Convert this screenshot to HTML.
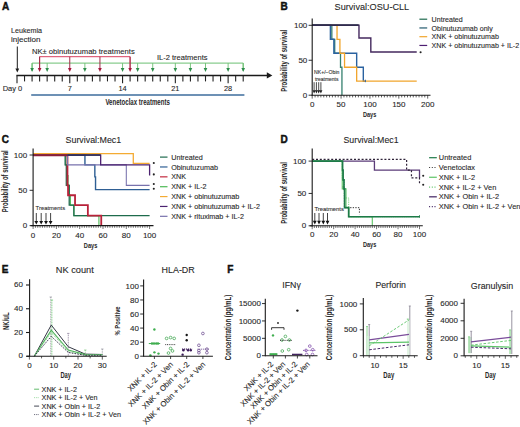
<!DOCTYPE html>
<html><head><meta charset="utf-8"><title>Figure</title>
<style>
html,body{margin:0;padding:0;background:#fff;width:520px;height:427px;overflow:hidden}
svg{display:block;font-family:"Liberation Sans",sans-serif}
text{stroke:#2a2a2a;stroke-width:0.1px;paint-order:stroke}
text[font-weight=bold]{stroke-width:0}
text.pl{stroke:#111;stroke-width:0.45px}
</style></head><body>
<svg width="520" height="427" viewBox="0 0 520 427">
<rect width="520" height="427" fill="#fff"/>
<text x="2" y="10" font-size="10" fill="#111" class="pl" font-weight="bold">A</text>
<text x="11" y="32.8" font-size="7.2" fill="#262626" textLength="31" lengthAdjust="spacingAndGlyphs">Leukemia</text>
<text x="11" y="41.8" font-size="7.2" fill="#262626" textLength="29.5" lengthAdjust="spacingAndGlyphs">injection</text>
<line x1="17.3" y1="46.5" x2="17.3" y2="68.9" stroke="#1a1a1a" stroke-width="1" stroke-linecap="butt"/>
<polygon points="15.4,68.6 19.2,68.6 17.3,72.4" fill="#1a1a1a"/>
<text x="31.9" y="53.6" font-size="7.4" fill="#262626" textLength="102.8" lengthAdjust="spacingAndGlyphs">NK± obinutuzumab treatments</text>
<text x="156.9" y="60.1" font-size="7.4" fill="#262626" textLength="50.6" lengthAdjust="spacingAndGlyphs">IL-2 treatments</text>
<polyline points="32.08,71 32.08,63.1 243.2,63.1 243.2,71" fill="none" stroke="#6cc072" stroke-width="1" stroke-linejoin="miter"/>
<line x1="32.08" y1="63.1" x2="32.08" y2="68.4" stroke="#6cc072" stroke-width="0.9" stroke-linecap="butt"/>
<polygon points="30.28,68.1 33.88,68.1 32.08,72.1" fill="#2e8d4c"/>
<line x1="47.16" y1="63.1" x2="47.16" y2="68.4" stroke="#6cc072" stroke-width="0.9" stroke-linecap="butt"/>
<polygon points="45.36,68.1 48.96,68.1 47.16,72.1" fill="#2e8d4c"/>
<line x1="84.86" y1="63.1" x2="84.86" y2="68.4" stroke="#6cc072" stroke-width="0.9" stroke-linecap="butt"/>
<polygon points="83.06,68.1 86.66,68.1 84.86,72.1" fill="#2e8d4c"/>
<line x1="122.56" y1="63.1" x2="122.56" y2="68.4" stroke="#6cc072" stroke-width="0.9" stroke-linecap="butt"/>
<polygon points="120.76,68.1 124.36,68.1 122.56,72.1" fill="#2e8d4c"/>
<line x1="137.64" y1="63.1" x2="137.64" y2="68.4" stroke="#6cc072" stroke-width="0.9" stroke-linecap="butt"/>
<polygon points="135.84,68.1 139.44,68.1 137.64,72.1" fill="#2e8d4c"/>
<line x1="152.72" y1="63.1" x2="152.72" y2="68.4" stroke="#6cc072" stroke-width="0.9" stroke-linecap="butt"/>
<polygon points="150.92,68.1 154.52,68.1 152.72,72.1" fill="#2e8d4c"/>
<line x1="175.34" y1="63.1" x2="175.34" y2="68.4" stroke="#6cc072" stroke-width="0.9" stroke-linecap="butt"/>
<polygon points="173.54,68.1 177.14,68.1 175.34,72.1" fill="#2e8d4c"/>
<line x1="190.42" y1="63.1" x2="190.42" y2="68.4" stroke="#6cc072" stroke-width="0.9" stroke-linecap="butt"/>
<polygon points="188.62,68.1 192.22,68.1 190.42,72.1" fill="#2e8d4c"/>
<line x1="205.5" y1="63.1" x2="205.5" y2="68.4" stroke="#6cc072" stroke-width="0.9" stroke-linecap="butt"/>
<polygon points="203.7,68.1 207.3,68.1 205.5,72.1" fill="#2e8d4c"/>
<line x1="228.12" y1="63.1" x2="228.12" y2="68.4" stroke="#6cc072" stroke-width="0.9" stroke-linecap="butt"/>
<polygon points="226.32,68.1 229.92,68.1 228.12,72.1" fill="#2e8d4c"/>
<line x1="243.2" y1="63.1" x2="243.2" y2="68.4" stroke="#6cc072" stroke-width="0.9" stroke-linecap="butt"/>
<polygon points="241.4,68.1 245,68.1 243.2,72.1" fill="#2e8d4c"/>
<polyline points="39.62,70 39.62,56.7 130.1,56.7 130.1,70" fill="none" stroke="#d9415f" stroke-width="1" stroke-linejoin="miter"/>
<line x1="39.62" y1="56.7" x2="39.62" y2="68.4" stroke="#9e2c48" stroke-width="1" stroke-linecap="butt"/>
<polygon points="37.82,68.1 41.42,68.1 39.62,72.1" fill="#a3173a"/>
<line x1="69.78" y1="56.7" x2="69.78" y2="68.4" stroke="#9e2c48" stroke-width="1" stroke-linecap="butt"/>
<polygon points="67.98,68.1 71.58,68.1 69.78,72.1" fill="#a3173a"/>
<line x1="99.94" y1="56.7" x2="99.94" y2="68.4" stroke="#9e2c48" stroke-width="1" stroke-linecap="butt"/>
<polygon points="98.14,68.1 101.74,68.1 99.94,72.1" fill="#a3173a"/>
<line x1="130.1" y1="56.7" x2="130.1" y2="68.4" stroke="#9e2c48" stroke-width="1" stroke-linecap="butt"/>
<polygon points="128.3,68.1 131.9,68.1 130.1,72.1" fill="#a3173a"/>
<line x1="16.4" y1="75.5" x2="267.5" y2="75.5" stroke="#1a1a1a" stroke-width="1.3" stroke-linecap="butt"/>
<polygon points="266.8,72.2 272.4,75.5 266.8,78.6" fill="#1a1a1a"/>
<line x1="17" y1="75.5" x2="17" y2="83.2" stroke="#222" stroke-width="1.1" stroke-linecap="butt"/>
<line x1="24.54" y1="75.5" x2="24.54" y2="81.4" stroke="#222" stroke-width="1.1" stroke-linecap="butt"/>
<line x1="32.08" y1="75.5" x2="32.08" y2="81.4" stroke="#222" stroke-width="1.1" stroke-linecap="butt"/>
<line x1="39.62" y1="75.5" x2="39.62" y2="81.4" stroke="#222" stroke-width="1.1" stroke-linecap="butt"/>
<line x1="47.16" y1="75.5" x2="47.16" y2="81.4" stroke="#222" stroke-width="1.1" stroke-linecap="butt"/>
<line x1="54.7" y1="75.5" x2="54.7" y2="81.4" stroke="#222" stroke-width="1.1" stroke-linecap="butt"/>
<line x1="62.24" y1="75.5" x2="62.24" y2="81.4" stroke="#222" stroke-width="1.1" stroke-linecap="butt"/>
<line x1="69.78" y1="75.5" x2="69.78" y2="83.2" stroke="#222" stroke-width="1.1" stroke-linecap="butt"/>
<line x1="77.32" y1="75.5" x2="77.32" y2="81.4" stroke="#222" stroke-width="1.1" stroke-linecap="butt"/>
<line x1="84.86" y1="75.5" x2="84.86" y2="81.4" stroke="#222" stroke-width="1.1" stroke-linecap="butt"/>
<line x1="92.4" y1="75.5" x2="92.4" y2="81.4" stroke="#222" stroke-width="1.1" stroke-linecap="butt"/>
<line x1="99.94" y1="75.5" x2="99.94" y2="81.4" stroke="#222" stroke-width="1.1" stroke-linecap="butt"/>
<line x1="107.48" y1="75.5" x2="107.48" y2="81.4" stroke="#222" stroke-width="1.1" stroke-linecap="butt"/>
<line x1="115.02" y1="75.5" x2="115.02" y2="81.4" stroke="#222" stroke-width="1.1" stroke-linecap="butt"/>
<line x1="122.56" y1="75.5" x2="122.56" y2="83.2" stroke="#222" stroke-width="1.1" stroke-linecap="butt"/>
<line x1="130.1" y1="75.5" x2="130.1" y2="81.4" stroke="#222" stroke-width="1.1" stroke-linecap="butt"/>
<line x1="137.64" y1="75.5" x2="137.64" y2="81.4" stroke="#222" stroke-width="1.1" stroke-linecap="butt"/>
<line x1="145.18" y1="75.5" x2="145.18" y2="81.4" stroke="#222" stroke-width="1.1" stroke-linecap="butt"/>
<line x1="152.72" y1="75.5" x2="152.72" y2="81.4" stroke="#222" stroke-width="1.1" stroke-linecap="butt"/>
<line x1="160.26" y1="75.5" x2="160.26" y2="81.4" stroke="#222" stroke-width="1.1" stroke-linecap="butt"/>
<line x1="167.8" y1="75.5" x2="167.8" y2="81.4" stroke="#222" stroke-width="1.1" stroke-linecap="butt"/>
<line x1="175.34" y1="75.5" x2="175.34" y2="83.2" stroke="#222" stroke-width="1.1" stroke-linecap="butt"/>
<line x1="182.88" y1="75.5" x2="182.88" y2="81.4" stroke="#222" stroke-width="1.1" stroke-linecap="butt"/>
<line x1="190.42" y1="75.5" x2="190.42" y2="81.4" stroke="#222" stroke-width="1.1" stroke-linecap="butt"/>
<line x1="197.96" y1="75.5" x2="197.96" y2="81.4" stroke="#222" stroke-width="1.1" stroke-linecap="butt"/>
<line x1="205.5" y1="75.5" x2="205.5" y2="81.4" stroke="#222" stroke-width="1.1" stroke-linecap="butt"/>
<line x1="213.04" y1="75.5" x2="213.04" y2="81.4" stroke="#222" stroke-width="1.1" stroke-linecap="butt"/>
<line x1="220.58" y1="75.5" x2="220.58" y2="81.4" stroke="#222" stroke-width="1.1" stroke-linecap="butt"/>
<line x1="228.12" y1="75.5" x2="228.12" y2="83.2" stroke="#222" stroke-width="1.1" stroke-linecap="butt"/>
<line x1="235.66" y1="75.5" x2="235.66" y2="81.4" stroke="#222" stroke-width="1.1" stroke-linecap="butt"/>
<line x1="243.2" y1="75.5" x2="243.2" y2="81.4" stroke="#222" stroke-width="1.1" stroke-linecap="butt"/>
<text x="2.7" y="91.3" font-size="7.4" fill="#262626" textLength="19.6" lengthAdjust="spacingAndGlyphs">Day 0</text>
<text x="69.78" y="91.3" font-size="7.4" fill="#262626" text-anchor="middle">7</text>
<text x="122.56" y="91.3" font-size="7.4" fill="#262626" text-anchor="middle">14</text>
<text x="175.34" y="91.3" font-size="7.4" fill="#262626" text-anchor="middle">21</text>
<text x="228.12" y="91.3" font-size="7.4" fill="#262626" text-anchor="middle">28</text>
<line x1="31.2" y1="95" x2="244.4" y2="95" stroke="#3d6d9c" stroke-width="1.4" stroke-linecap="butt"/>
<text x="105.4" y="104.8" font-size="8.6" fill="#262626" font-weight="bold" textLength="64.4" lengthAdjust="spacingAndGlyphs">Venetoclax treatments</text>
<text x="280.5" y="10.2" font-size="10" fill="#111" class="pl" font-weight="bold">B</text>
<text x="334.6" y="10" font-size="9" fill="#262626" textLength="74.6" lengthAdjust="spacingAndGlyphs">Survival:OSU-CLL</text>
<polyline points="312.2,25.3 331.83,25.3 331.83,25.3 331.83,39.28 334.72,39.28 334.72,39.28 334.72,53.26 340.5,53.26 340.5,53.26 340.5,67.24 341.94,67.24 341.94,67.24 341.94,95.2" fill="none" stroke="#35806f" stroke-width="1.3" stroke-linejoin="miter"/>
<polyline points="312.2,25.3 330.39,25.3 330.39,25.3 330.39,39.28 333.86,39.28 333.86,39.28 333.86,53.26 356.67,53.26 356.67,53.26 356.67,67.24 363.31,67.24 363.31,67.24 363.31,81.22 365.91,81.22" fill="none" stroke="#2a62a0" stroke-width="1.4" stroke-linejoin="miter"/>
<polyline points="312.2,25.3 337.03,25.3 337.03,25.3 337.03,39.28 339.92,39.28 339.92,39.28 339.92,53.26 344.54,53.26 344.54,53.26 344.54,67.24 356.67,67.24 356.67,67.24 356.67,81.22 416.73,81.22" fill="none" stroke="#f1a52c" stroke-width="1.3" stroke-linejoin="miter"/>
<polyline points="312.2,25.3 358.98,25.3 358.98,25.3 358.98,38.02 370.82,38.02 370.82,38.02 370.82,52 416.73,52" fill="none" stroke="#44295e" stroke-width="1.4" stroke-linejoin="miter"/>
<line x1="312.2" y1="25.1" x2="358.69" y2="25.1" stroke="#2b2d4a" stroke-width="1.5" stroke-linecap="butt"/>
<line x1="365.41" y1="79.72" x2="365.41" y2="82.22" stroke="#2a62a0" stroke-width="0.9" stroke-linecap="butt"/>
<circle cx="420.6" cy="52.3" r="1.05" fill="#222"/>
<line x1="312.2" y1="18.6" x2="312.2" y2="95.8" stroke="#1a1a1a" stroke-width="1.1" stroke-linecap="butt"/>
<line x1="311.6" y1="95.2" x2="430.5" y2="95.2" stroke="#1a1a1a" stroke-width="1.1" stroke-linecap="butt"/>
<line x1="308.6" y1="25.3" x2="312.2" y2="25.3" stroke="#1a1a1a" stroke-width="0.9" stroke-linecap="butt"/>
<text x="307.3" y="27.9" font-size="8" fill="#262626" text-anchor="end">100</text>
<line x1="308.6" y1="60.25" x2="312.2" y2="60.25" stroke="#1a1a1a" stroke-width="0.9" stroke-linecap="butt"/>
<text x="307.3" y="62.85" font-size="8" fill="#262626" text-anchor="end">50</text>
<line x1="308.6" y1="95.2" x2="312.2" y2="95.2" stroke="#1a1a1a" stroke-width="0.9" stroke-linecap="butt"/>
<text x="307.3" y="97.8" font-size="8" fill="#262626" text-anchor="end">0</text>
<line x1="312.2" y1="95.2" x2="312.2" y2="98.6" stroke="#1a1a1a" stroke-width="0.7" stroke-linecap="butt"/>
<line x1="315.09" y1="95.2" x2="315.09" y2="97.4" stroke="#1a1a1a" stroke-width="0.7" stroke-linecap="butt"/>
<line x1="317.97" y1="95.2" x2="317.97" y2="97.4" stroke="#1a1a1a" stroke-width="0.7" stroke-linecap="butt"/>
<line x1="320.86" y1="95.2" x2="320.86" y2="97.4" stroke="#1a1a1a" stroke-width="0.7" stroke-linecap="butt"/>
<line x1="323.75" y1="95.2" x2="323.75" y2="97.4" stroke="#1a1a1a" stroke-width="0.7" stroke-linecap="butt"/>
<line x1="326.64" y1="95.2" x2="326.64" y2="97.4" stroke="#1a1a1a" stroke-width="0.7" stroke-linecap="butt"/>
<line x1="329.52" y1="95.2" x2="329.52" y2="97.4" stroke="#1a1a1a" stroke-width="0.7" stroke-linecap="butt"/>
<line x1="332.41" y1="95.2" x2="332.41" y2="97.4" stroke="#1a1a1a" stroke-width="0.7" stroke-linecap="butt"/>
<line x1="335.3" y1="95.2" x2="335.3" y2="97.4" stroke="#1a1a1a" stroke-width="0.7" stroke-linecap="butt"/>
<line x1="338.19" y1="95.2" x2="338.19" y2="97.4" stroke="#1a1a1a" stroke-width="0.7" stroke-linecap="butt"/>
<line x1="341.07" y1="95.2" x2="341.07" y2="98.6" stroke="#1a1a1a" stroke-width="0.7" stroke-linecap="butt"/>
<line x1="343.96" y1="95.2" x2="343.96" y2="97.4" stroke="#1a1a1a" stroke-width="0.7" stroke-linecap="butt"/>
<line x1="346.85" y1="95.2" x2="346.85" y2="97.4" stroke="#1a1a1a" stroke-width="0.7" stroke-linecap="butt"/>
<line x1="349.74" y1="95.2" x2="349.74" y2="97.4" stroke="#1a1a1a" stroke-width="0.7" stroke-linecap="butt"/>
<line x1="352.62" y1="95.2" x2="352.62" y2="97.4" stroke="#1a1a1a" stroke-width="0.7" stroke-linecap="butt"/>
<line x1="355.51" y1="95.2" x2="355.51" y2="97.4" stroke="#1a1a1a" stroke-width="0.7" stroke-linecap="butt"/>
<line x1="358.4" y1="95.2" x2="358.4" y2="97.4" stroke="#1a1a1a" stroke-width="0.7" stroke-linecap="butt"/>
<line x1="361.29" y1="95.2" x2="361.29" y2="97.4" stroke="#1a1a1a" stroke-width="0.7" stroke-linecap="butt"/>
<line x1="364.18" y1="95.2" x2="364.18" y2="97.4" stroke="#1a1a1a" stroke-width="0.7" stroke-linecap="butt"/>
<line x1="367.06" y1="95.2" x2="367.06" y2="97.4" stroke="#1a1a1a" stroke-width="0.7" stroke-linecap="butt"/>
<line x1="369.95" y1="95.2" x2="369.95" y2="98.6" stroke="#1a1a1a" stroke-width="0.7" stroke-linecap="butt"/>
<line x1="372.84" y1="95.2" x2="372.84" y2="97.4" stroke="#1a1a1a" stroke-width="0.7" stroke-linecap="butt"/>
<line x1="375.72" y1="95.2" x2="375.72" y2="97.4" stroke="#1a1a1a" stroke-width="0.7" stroke-linecap="butt"/>
<line x1="378.61" y1="95.2" x2="378.61" y2="97.4" stroke="#1a1a1a" stroke-width="0.7" stroke-linecap="butt"/>
<line x1="381.5" y1="95.2" x2="381.5" y2="97.4" stroke="#1a1a1a" stroke-width="0.7" stroke-linecap="butt"/>
<line x1="384.39" y1="95.2" x2="384.39" y2="97.4" stroke="#1a1a1a" stroke-width="0.7" stroke-linecap="butt"/>
<line x1="387.27" y1="95.2" x2="387.27" y2="97.4" stroke="#1a1a1a" stroke-width="0.7" stroke-linecap="butt"/>
<line x1="390.16" y1="95.2" x2="390.16" y2="97.4" stroke="#1a1a1a" stroke-width="0.7" stroke-linecap="butt"/>
<line x1="393.05" y1="95.2" x2="393.05" y2="97.4" stroke="#1a1a1a" stroke-width="0.7" stroke-linecap="butt"/>
<line x1="395.94" y1="95.2" x2="395.94" y2="97.4" stroke="#1a1a1a" stroke-width="0.7" stroke-linecap="butt"/>
<line x1="398.82" y1="95.2" x2="398.82" y2="98.6" stroke="#1a1a1a" stroke-width="0.7" stroke-linecap="butt"/>
<line x1="401.71" y1="95.2" x2="401.71" y2="97.4" stroke="#1a1a1a" stroke-width="0.7" stroke-linecap="butt"/>
<line x1="404.6" y1="95.2" x2="404.6" y2="97.4" stroke="#1a1a1a" stroke-width="0.7" stroke-linecap="butt"/>
<line x1="407.49" y1="95.2" x2="407.49" y2="97.4" stroke="#1a1a1a" stroke-width="0.7" stroke-linecap="butt"/>
<line x1="410.38" y1="95.2" x2="410.38" y2="97.4" stroke="#1a1a1a" stroke-width="0.7" stroke-linecap="butt"/>
<line x1="413.26" y1="95.2" x2="413.26" y2="97.4" stroke="#1a1a1a" stroke-width="0.7" stroke-linecap="butt"/>
<line x1="416.15" y1="95.2" x2="416.15" y2="97.4" stroke="#1a1a1a" stroke-width="0.7" stroke-linecap="butt"/>
<line x1="419.04" y1="95.2" x2="419.04" y2="97.4" stroke="#1a1a1a" stroke-width="0.7" stroke-linecap="butt"/>
<line x1="421.93" y1="95.2" x2="421.93" y2="97.4" stroke="#1a1a1a" stroke-width="0.7" stroke-linecap="butt"/>
<line x1="424.81" y1="95.2" x2="424.81" y2="97.4" stroke="#1a1a1a" stroke-width="0.7" stroke-linecap="butt"/>
<line x1="427.7" y1="95.2" x2="427.7" y2="98.6" stroke="#1a1a1a" stroke-width="0.7" stroke-linecap="butt"/>
<text x="312.2" y="106.6" font-size="8" fill="#262626" text-anchor="middle">0</text>
<text x="341.07" y="106.6" font-size="8" fill="#262626" text-anchor="middle">50</text>
<text x="369.95" y="106.6" font-size="8" fill="#262626" text-anchor="middle">100</text>
<text x="398.82" y="106.6" font-size="8" fill="#262626" text-anchor="middle">150</text>
<text x="427.7" y="106.6" font-size="8" fill="#262626" text-anchor="middle">200</text>
<text x="363" y="116.9" font-size="8" fill="#262626" font-weight="bold" textLength="13.3" lengthAdjust="spacingAndGlyphs">Days</text>
<text x="287.2" y="91.7" font-size="8.6" fill="#262626" font-weight="bold" textLength="61.8" lengthAdjust="spacingAndGlyphs" transform="rotate(-90 287.2 91.7)">Probability of survival</text>
<text x="314.1" y="74" font-size="4.6" fill="#333" textLength="25.3" lengthAdjust="spacingAndGlyphs">NK+/−Obin</text>
<text x="314.9" y="80.6" font-size="4.6" fill="#333" textLength="23.6" lengthAdjust="spacingAndGlyphs">treatments</text>
<line x1="314.1" y1="82.2" x2="314.1" y2="90.5" stroke="#1a1a1a" stroke-width="0.8" stroke-linecap="butt"/>
<polygon points="312.6,90.2 315.6,90.2 314.1,93.6" fill="#1a1a1a"/>
<line x1="316.4" y1="82.2" x2="316.4" y2="90.5" stroke="#1a1a1a" stroke-width="0.8" stroke-linecap="butt"/>
<polygon points="314.9,90.2 317.9,90.2 316.4,93.6" fill="#1a1a1a"/>
<line x1="318.7" y1="82.2" x2="318.7" y2="90.5" stroke="#1a1a1a" stroke-width="0.8" stroke-linecap="butt"/>
<polygon points="317.2,90.2 320.2,90.2 318.7,93.6" fill="#1a1a1a"/>
<line x1="320.9" y1="82.2" x2="320.9" y2="90.5" stroke="#1a1a1a" stroke-width="0.8" stroke-linecap="butt"/>
<polygon points="319.4,90.2 322.4,90.2 320.9,93.6" fill="#1a1a1a"/>
<line x1="419.4" y1="19.2" x2="427.2" y2="19.2" stroke="#1f6a4e" stroke-width="1.2" stroke-linecap="butt"/>
<text x="431.6" y="21.8" font-size="7.1" fill="#262626">Untreated</text>
<line x1="419.4" y1="27.95" x2="427.2" y2="27.95" stroke="#245a6e" stroke-width="1.2" stroke-linecap="butt"/>
<text x="431.6" y="30.55" font-size="7.1" fill="#262626">Obinutuzumab only</text>
<line x1="419.4" y1="36.7" x2="427.2" y2="36.7" stroke="#f1a52c" stroke-width="1.2" stroke-linecap="butt"/>
<text x="431.6" y="39.3" font-size="7.1" fill="#262626">XNK + obinutuzumab</text>
<line x1="419.4" y1="45.45" x2="427.2" y2="45.45" stroke="#4e1f72" stroke-width="1.2" stroke-linecap="butt"/>
<text x="431.6" y="48.05" font-size="7.1" fill="#262626">XNK + obinutuzumab + IL-2</text>
<text x="1.8" y="142.6" font-size="10" fill="#111" class="pl" font-weight="bold">C</text>
<text x="65.6" y="143" font-size="8.9" fill="#262626" textLength="55.6" lengthAdjust="spacingAndGlyphs">Survival:Mec1</text>
<polyline points="33.1,155 65.72,155 65.72,155 65.72,164.88 66.89,164.88 66.89,164.88 66.89,175.47 68.05,175.47 68.05,175.47 68.05,185.36 69.22,185.36 69.22,185.36 69.22,195.24 70.38,195.24 70.38,195.24 70.38,205.13 73.88,205.13 73.88,205.13 73.88,215.72 98.92,215.72 98.92,215.72 98.92,225.6" fill="none" stroke="#4cb954" stroke-width="1.1" stroke-linejoin="miter"/>
<polyline points="33.1,155 65.14,155 65.14,155 65.14,164.88 66.3,164.88 66.3,164.88 66.3,185.36 69.22,185.36 69.22,185.36 69.22,205.13 73.88,205.13 73.88,205.13 73.88,215.72 149.6,215.72" fill="none" stroke="#1e6b4c" stroke-width="1.3" stroke-linejoin="miter"/>
<polyline points="33.1,155 67.47,155 67.47,155 67.47,185.36 68.05,185.36 68.05,185.36 68.05,195.24 75.04,195.24 75.04,195.24 75.04,205.13 87.86,205.13 87.86,205.13 87.86,215.72 101.25,215.72 101.25,215.72 101.25,225.6" fill="none" stroke="#b8223a" stroke-width="1.8" stroke-linejoin="miter"/>
<polyline points="33.1,155 84.94,155 84.94,155 84.94,164.88 94.84,164.88 94.84,164.88 94.84,176.89 95.54,176.89 95.54,176.89 95.54,189.59 149.6,189.59" fill="none" stroke="#2f5f94" stroke-width="1.4" stroke-linejoin="miter"/>
<polyline points="33.1,155 67.47,155 67.47,155 67.47,164.88 126.3,164.88 126.3,164.88 126.3,185.36 149.6,185.36" fill="none" stroke="#7872ad" stroke-width="1.05" stroke-linejoin="miter"/>
<polyline points="33.1,155 100.67,155 100.67,155 100.67,164.88 149.6,164.88 149.6,164.88 149.6,175.47" fill="none" stroke="#4c2270" stroke-width="1.3" stroke-linejoin="miter"/>
<polyline points="33.1,153.6 133.29,153.6 133.29,163.4 149.6,163.4" fill="none" stroke="#f4ab33" stroke-width="1.3" stroke-linejoin="miter"/>
<line x1="33.1" y1="155.2" x2="67.47" y2="155.2" stroke="#8a1f3a" stroke-width="2" stroke-linecap="butt"/>
<line x1="67.47" y1="155" x2="100.67" y2="155" stroke="#2a2f55" stroke-width="1.5" stroke-linecap="butt"/>
<circle cx="153.8" cy="163" r="1.05" fill="#222"/>
<circle cx="153.8" cy="174.4" r="1.05" fill="#222"/>
<circle cx="153.8" cy="184" r="1.05" fill="#222"/>
<circle cx="153.8" cy="188.8" r="1.05" fill="#222"/>
<line x1="33.1" y1="148.5" x2="33.1" y2="226.2" stroke="#1a1a1a" stroke-width="1.1" stroke-linecap="butt"/>
<line x1="30.6" y1="225.6" x2="153.5" y2="225.6" stroke="#1a1a1a" stroke-width="1.1" stroke-linecap="butt"/>
<line x1="29.6" y1="155" x2="33.1" y2="155" stroke="#1a1a1a" stroke-width="0.9" stroke-linecap="butt"/>
<text x="27.2" y="157.6" font-size="8" fill="#262626" text-anchor="end">100</text>
<line x1="29.6" y1="190.3" x2="33.1" y2="190.3" stroke="#1a1a1a" stroke-width="0.9" stroke-linecap="butt"/>
<text x="27.2" y="192.9" font-size="8" fill="#262626" text-anchor="end">50</text>
<line x1="29.6" y1="225.6" x2="33.1" y2="225.6" stroke="#1a1a1a" stroke-width="0.9" stroke-linecap="butt"/>
<text x="27.2" y="228.2" font-size="8" fill="#262626" text-anchor="end">0</text>
<line x1="33.1" y1="225.6" x2="33.1" y2="229" stroke="#1a1a1a" stroke-width="0.6" stroke-linecap="butt"/>
<line x1="35.43" y1="225.6" x2="35.43" y2="227.8" stroke="#1a1a1a" stroke-width="0.6" stroke-linecap="butt"/>
<line x1="37.76" y1="225.6" x2="37.76" y2="227.8" stroke="#1a1a1a" stroke-width="0.6" stroke-linecap="butt"/>
<line x1="40.09" y1="225.6" x2="40.09" y2="227.8" stroke="#1a1a1a" stroke-width="0.6" stroke-linecap="butt"/>
<line x1="42.42" y1="225.6" x2="42.42" y2="227.8" stroke="#1a1a1a" stroke-width="0.6" stroke-linecap="butt"/>
<line x1="44.75" y1="225.6" x2="44.75" y2="227.8" stroke="#1a1a1a" stroke-width="0.6" stroke-linecap="butt"/>
<line x1="47.08" y1="225.6" x2="47.08" y2="227.8" stroke="#1a1a1a" stroke-width="0.6" stroke-linecap="butt"/>
<line x1="49.41" y1="225.6" x2="49.41" y2="227.8" stroke="#1a1a1a" stroke-width="0.6" stroke-linecap="butt"/>
<line x1="51.74" y1="225.6" x2="51.74" y2="227.8" stroke="#1a1a1a" stroke-width="0.6" stroke-linecap="butt"/>
<line x1="54.07" y1="225.6" x2="54.07" y2="227.8" stroke="#1a1a1a" stroke-width="0.6" stroke-linecap="butt"/>
<line x1="56.4" y1="225.6" x2="56.4" y2="229" stroke="#1a1a1a" stroke-width="0.6" stroke-linecap="butt"/>
<line x1="58.73" y1="225.6" x2="58.73" y2="227.8" stroke="#1a1a1a" stroke-width="0.6" stroke-linecap="butt"/>
<line x1="61.06" y1="225.6" x2="61.06" y2="227.8" stroke="#1a1a1a" stroke-width="0.6" stroke-linecap="butt"/>
<line x1="63.39" y1="225.6" x2="63.39" y2="227.8" stroke="#1a1a1a" stroke-width="0.6" stroke-linecap="butt"/>
<line x1="65.72" y1="225.6" x2="65.72" y2="227.8" stroke="#1a1a1a" stroke-width="0.6" stroke-linecap="butt"/>
<line x1="68.05" y1="225.6" x2="68.05" y2="227.8" stroke="#1a1a1a" stroke-width="0.6" stroke-linecap="butt"/>
<line x1="70.38" y1="225.6" x2="70.38" y2="227.8" stroke="#1a1a1a" stroke-width="0.6" stroke-linecap="butt"/>
<line x1="72.71" y1="225.6" x2="72.71" y2="227.8" stroke="#1a1a1a" stroke-width="0.6" stroke-linecap="butt"/>
<line x1="75.04" y1="225.6" x2="75.04" y2="227.8" stroke="#1a1a1a" stroke-width="0.6" stroke-linecap="butt"/>
<line x1="77.37" y1="225.6" x2="77.37" y2="227.8" stroke="#1a1a1a" stroke-width="0.6" stroke-linecap="butt"/>
<line x1="79.7" y1="225.6" x2="79.7" y2="229" stroke="#1a1a1a" stroke-width="0.6" stroke-linecap="butt"/>
<line x1="82.03" y1="225.6" x2="82.03" y2="227.8" stroke="#1a1a1a" stroke-width="0.6" stroke-linecap="butt"/>
<line x1="84.36" y1="225.6" x2="84.36" y2="227.8" stroke="#1a1a1a" stroke-width="0.6" stroke-linecap="butt"/>
<line x1="86.69" y1="225.6" x2="86.69" y2="227.8" stroke="#1a1a1a" stroke-width="0.6" stroke-linecap="butt"/>
<line x1="89.02" y1="225.6" x2="89.02" y2="227.8" stroke="#1a1a1a" stroke-width="0.6" stroke-linecap="butt"/>
<line x1="91.35" y1="225.6" x2="91.35" y2="227.8" stroke="#1a1a1a" stroke-width="0.6" stroke-linecap="butt"/>
<line x1="93.68" y1="225.6" x2="93.68" y2="227.8" stroke="#1a1a1a" stroke-width="0.6" stroke-linecap="butt"/>
<line x1="96.01" y1="225.6" x2="96.01" y2="227.8" stroke="#1a1a1a" stroke-width="0.6" stroke-linecap="butt"/>
<line x1="98.34" y1="225.6" x2="98.34" y2="227.8" stroke="#1a1a1a" stroke-width="0.6" stroke-linecap="butt"/>
<line x1="100.67" y1="225.6" x2="100.67" y2="227.8" stroke="#1a1a1a" stroke-width="0.6" stroke-linecap="butt"/>
<line x1="103" y1="225.6" x2="103" y2="229" stroke="#1a1a1a" stroke-width="0.6" stroke-linecap="butt"/>
<line x1="105.33" y1="225.6" x2="105.33" y2="227.8" stroke="#1a1a1a" stroke-width="0.6" stroke-linecap="butt"/>
<line x1="107.66" y1="225.6" x2="107.66" y2="227.8" stroke="#1a1a1a" stroke-width="0.6" stroke-linecap="butt"/>
<line x1="109.99" y1="225.6" x2="109.99" y2="227.8" stroke="#1a1a1a" stroke-width="0.6" stroke-linecap="butt"/>
<line x1="112.32" y1="225.6" x2="112.32" y2="227.8" stroke="#1a1a1a" stroke-width="0.6" stroke-linecap="butt"/>
<line x1="114.65" y1="225.6" x2="114.65" y2="227.8" stroke="#1a1a1a" stroke-width="0.6" stroke-linecap="butt"/>
<line x1="116.98" y1="225.6" x2="116.98" y2="227.8" stroke="#1a1a1a" stroke-width="0.6" stroke-linecap="butt"/>
<line x1="119.31" y1="225.6" x2="119.31" y2="227.8" stroke="#1a1a1a" stroke-width="0.6" stroke-linecap="butt"/>
<line x1="121.64" y1="225.6" x2="121.64" y2="227.8" stroke="#1a1a1a" stroke-width="0.6" stroke-linecap="butt"/>
<line x1="123.97" y1="225.6" x2="123.97" y2="227.8" stroke="#1a1a1a" stroke-width="0.6" stroke-linecap="butt"/>
<line x1="126.3" y1="225.6" x2="126.3" y2="229" stroke="#1a1a1a" stroke-width="0.6" stroke-linecap="butt"/>
<line x1="128.63" y1="225.6" x2="128.63" y2="227.8" stroke="#1a1a1a" stroke-width="0.6" stroke-linecap="butt"/>
<line x1="130.96" y1="225.6" x2="130.96" y2="227.8" stroke="#1a1a1a" stroke-width="0.6" stroke-linecap="butt"/>
<line x1="133.29" y1="225.6" x2="133.29" y2="227.8" stroke="#1a1a1a" stroke-width="0.6" stroke-linecap="butt"/>
<line x1="135.62" y1="225.6" x2="135.62" y2="227.8" stroke="#1a1a1a" stroke-width="0.6" stroke-linecap="butt"/>
<line x1="137.95" y1="225.6" x2="137.95" y2="227.8" stroke="#1a1a1a" stroke-width="0.6" stroke-linecap="butt"/>
<line x1="140.28" y1="225.6" x2="140.28" y2="227.8" stroke="#1a1a1a" stroke-width="0.6" stroke-linecap="butt"/>
<line x1="142.61" y1="225.6" x2="142.61" y2="227.8" stroke="#1a1a1a" stroke-width="0.6" stroke-linecap="butt"/>
<line x1="144.94" y1="225.6" x2="144.94" y2="227.8" stroke="#1a1a1a" stroke-width="0.6" stroke-linecap="butt"/>
<line x1="147.27" y1="225.6" x2="147.27" y2="227.8" stroke="#1a1a1a" stroke-width="0.6" stroke-linecap="butt"/>
<line x1="149.6" y1="225.6" x2="149.6" y2="229" stroke="#1a1a1a" stroke-width="0.6" stroke-linecap="butt"/>
<text x="33.1" y="237.6" font-size="8" fill="#262626" text-anchor="middle">0</text>
<text x="56.4" y="237.6" font-size="8" fill="#262626" text-anchor="middle">20</text>
<text x="79.7" y="237.6" font-size="8" fill="#262626" text-anchor="middle">40</text>
<text x="103" y="237.6" font-size="8" fill="#262626" text-anchor="middle">60</text>
<text x="126.3" y="237.6" font-size="8" fill="#262626" text-anchor="middle">80</text>
<text x="149.6" y="237.6" font-size="8" fill="#262626" text-anchor="middle">100</text>
<text x="83.8" y="247.8" font-size="8" fill="#262626" font-weight="bold" textLength="13.5" lengthAdjust="spacingAndGlyphs">Days</text>
<text x="7.6" y="212.2" font-size="8.6" fill="#262626" font-weight="bold" textLength="61.8" lengthAdjust="spacingAndGlyphs" transform="rotate(-90 7.6 212.2)">Probability of survival</text>
<text x="35.6" y="210.4" font-size="5.2" fill="#333" textLength="29.5" lengthAdjust="spacingAndGlyphs">Treatments</text>
<line x1="36.3" y1="213" x2="36.3" y2="221.3" stroke="#111" stroke-width="0.8" stroke-linecap="butt"/>
<polygon points="34.4,221 38.2,221 36.3,224.6" fill="#111"/>
<line x1="41.2" y1="213" x2="41.2" y2="221.3" stroke="#111" stroke-width="0.8" stroke-linecap="butt"/>
<polygon points="39.3,221 43.1,221 41.2,224.6" fill="#111"/>
<line x1="46" y1="213" x2="46" y2="221.3" stroke="#111" stroke-width="0.8" stroke-linecap="butt"/>
<polygon points="44.1,221 47.9,221 46,224.6" fill="#111"/>
<line x1="50.6" y1="213" x2="50.6" y2="221.3" stroke="#111" stroke-width="0.8" stroke-linecap="butt"/>
<polygon points="48.7,221 52.5,221 50.6,224.6" fill="#111"/>
<line x1="160" y1="157.1" x2="167.5" y2="157.1" stroke="#1f6a4e" stroke-width="1.2" stroke-linecap="butt"/>
<text x="171.2" y="159.7" font-size="7.2" fill="#262626">Untreated</text>
<line x1="160" y1="166.97" x2="167.5" y2="166.97" stroke="#2f5f94" stroke-width="1.2" stroke-linecap="butt"/>
<text x="171.2" y="169.57" font-size="7.2" fill="#262626">Obinutuzumab</text>
<line x1="160" y1="176.84" x2="167.5" y2="176.84" stroke="#c22a3e" stroke-width="1.2" stroke-linecap="butt"/>
<text x="171.2" y="179.44" font-size="7.2" fill="#262626">XNK</text>
<line x1="160" y1="186.71" x2="167.5" y2="186.71" stroke="#4cb954" stroke-width="1.2" stroke-linecap="butt"/>
<text x="171.2" y="189.31" font-size="7.2" fill="#262626">XNK + IL-2</text>
<line x1="160" y1="196.58" x2="167.5" y2="196.58" stroke="#f4ab33" stroke-width="1.2" stroke-linecap="butt"/>
<text x="171.2" y="199.18" font-size="7.2" fill="#262626">XNK + obinutuzumab</text>
<line x1="160" y1="206.45" x2="167.5" y2="206.45" stroke="#4c2270" stroke-width="1.2" stroke-linecap="butt"/>
<text x="171.2" y="209.05" font-size="7.2" fill="#262626">XNK + obinutuzumab + IL-2</text>
<line x1="160" y1="216.32" x2="167.5" y2="216.32" stroke="#7872ad" stroke-width="1.2" stroke-linecap="butt"/>
<text x="171.2" y="218.92" font-size="7.2" fill="#262626">XNK + rituximab + IL-2</text>
<text x="280.5" y="142.8" font-size="10" fill="#111" class="pl" font-weight="bold">D</text>
<text x="343.5" y="143" font-size="8.9" fill="#262626" textLength="55" lengthAdjust="spacingAndGlyphs">Survival:Mec1</text>
<polyline points="312.2,161.1 374.43,161.1 374.43,161.1 374.43,170.16 419.5,170.16 419.5,170.16 419.5,177.92" fill="none" stroke="#5b3b78" stroke-width="1.3" stroke-linejoin="miter"/>
<polyline points="312.2,159.4 406.62,159.4 406.62,170.16 411.45,170.16 411.45,177.92 419.5,177.92 419.5,185.04" fill="none" stroke="#2e2238" stroke-width="1.2" stroke-linejoin="miter" stroke-dasharray="2,1.8"/>
<polyline points="342.24,186.98 344.39,186.98 344.39,186.98 344.39,207.68 359.41,207.68 359.41,207.68 359.41,214.15" fill="none" stroke="#333" stroke-width="1" stroke-linejoin="miter" stroke-dasharray="1.3,1.3"/>
<polyline points="312.2,161.1 342.24,161.1 342.24,161.1 342.24,179.86 344.39,179.86 344.39,179.86 344.39,197.98 348.68,197.98 348.68,197.98 348.68,216.74 419.5,216.74" fill="none" stroke="#7fd487" stroke-width="1" stroke-linejoin="miter" stroke-dasharray="1.2,1"/>
<polyline points="312.2,161.1 342.24,161.1 342.24,161.1 342.24,188.92 346,188.92 346,188.92 346,207.68 348.68,207.68 348.68,207.68 348.68,216.74 372.29,216.74 372.29,216.74 372.29,225.8" fill="none" stroke="#5cc465" stroke-width="1.1" stroke-linejoin="miter"/>
<polyline points="312.2,161.1 342.57,161.1 342.57,161.1 342.57,170.16 343.1,170.16 343.1,170.16 343.1,179.86 343.96,179.86 343.96,179.86 343.96,188.92 344.6,188.92 344.6,188.92 344.6,207.68 348.68,207.68 348.68,207.68 348.68,216.74 419.5,216.74" fill="none" stroke="#1d7a48" stroke-width="1.7" stroke-linejoin="miter"/>
<line x1="419.5" y1="215.24" x2="419.5" y2="217.74" stroke="#1d7a48" stroke-width="0.9" stroke-linecap="butt"/>
<circle cx="423.2" cy="175.7" r="1.05" fill="#222"/>
<circle cx="423.2" cy="184.7" r="1.05" fill="#222"/>
<line x1="312.2" y1="148.5" x2="312.2" y2="226.4" stroke="#1a1a1a" stroke-width="1.1" stroke-linecap="butt"/>
<line x1="309.8" y1="225.8" x2="422.8" y2="225.8" stroke="#1a1a1a" stroke-width="1.1" stroke-linecap="butt"/>
<line x1="308.6" y1="161.1" x2="312.2" y2="161.1" stroke="#1a1a1a" stroke-width="0.9" stroke-linecap="butt"/>
<text x="306.3" y="163.7" font-size="8" fill="#262626" text-anchor="end">100</text>
<line x1="308.6" y1="193.45" x2="312.2" y2="193.45" stroke="#1a1a1a" stroke-width="0.9" stroke-linecap="butt"/>
<text x="306.3" y="196.05" font-size="8" fill="#262626" text-anchor="end">50</text>
<line x1="308.6" y1="225.8" x2="312.2" y2="225.8" stroke="#1a1a1a" stroke-width="0.9" stroke-linecap="butt"/>
<text x="306.3" y="228.4" font-size="8" fill="#262626" text-anchor="end">0</text>
<line x1="312.2" y1="225.8" x2="312.2" y2="229.2" stroke="#1a1a1a" stroke-width="0.6" stroke-linecap="butt"/>
<line x1="314.35" y1="225.8" x2="314.35" y2="228" stroke="#1a1a1a" stroke-width="0.6" stroke-linecap="butt"/>
<line x1="316.49" y1="225.8" x2="316.49" y2="228" stroke="#1a1a1a" stroke-width="0.6" stroke-linecap="butt"/>
<line x1="318.64" y1="225.8" x2="318.64" y2="228" stroke="#1a1a1a" stroke-width="0.6" stroke-linecap="butt"/>
<line x1="320.78" y1="225.8" x2="320.78" y2="228" stroke="#1a1a1a" stroke-width="0.6" stroke-linecap="butt"/>
<line x1="322.93" y1="225.8" x2="322.93" y2="228" stroke="#1a1a1a" stroke-width="0.6" stroke-linecap="butt"/>
<line x1="325.08" y1="225.8" x2="325.08" y2="228" stroke="#1a1a1a" stroke-width="0.6" stroke-linecap="butt"/>
<line x1="327.22" y1="225.8" x2="327.22" y2="228" stroke="#1a1a1a" stroke-width="0.6" stroke-linecap="butt"/>
<line x1="329.37" y1="225.8" x2="329.37" y2="228" stroke="#1a1a1a" stroke-width="0.6" stroke-linecap="butt"/>
<line x1="331.51" y1="225.8" x2="331.51" y2="228" stroke="#1a1a1a" stroke-width="0.6" stroke-linecap="butt"/>
<line x1="333.66" y1="225.8" x2="333.66" y2="229.2" stroke="#1a1a1a" stroke-width="0.6" stroke-linecap="butt"/>
<line x1="335.81" y1="225.8" x2="335.81" y2="228" stroke="#1a1a1a" stroke-width="0.6" stroke-linecap="butt"/>
<line x1="337.95" y1="225.8" x2="337.95" y2="228" stroke="#1a1a1a" stroke-width="0.6" stroke-linecap="butt"/>
<line x1="340.1" y1="225.8" x2="340.1" y2="228" stroke="#1a1a1a" stroke-width="0.6" stroke-linecap="butt"/>
<line x1="342.24" y1="225.8" x2="342.24" y2="228" stroke="#1a1a1a" stroke-width="0.6" stroke-linecap="butt"/>
<line x1="344.39" y1="225.8" x2="344.39" y2="228" stroke="#1a1a1a" stroke-width="0.6" stroke-linecap="butt"/>
<line x1="346.54" y1="225.8" x2="346.54" y2="228" stroke="#1a1a1a" stroke-width="0.6" stroke-linecap="butt"/>
<line x1="348.68" y1="225.8" x2="348.68" y2="228" stroke="#1a1a1a" stroke-width="0.6" stroke-linecap="butt"/>
<line x1="350.83" y1="225.8" x2="350.83" y2="228" stroke="#1a1a1a" stroke-width="0.6" stroke-linecap="butt"/>
<line x1="352.97" y1="225.8" x2="352.97" y2="228" stroke="#1a1a1a" stroke-width="0.6" stroke-linecap="butt"/>
<line x1="355.12" y1="225.8" x2="355.12" y2="229.2" stroke="#1a1a1a" stroke-width="0.6" stroke-linecap="butt"/>
<line x1="357.27" y1="225.8" x2="357.27" y2="228" stroke="#1a1a1a" stroke-width="0.6" stroke-linecap="butt"/>
<line x1="359.41" y1="225.8" x2="359.41" y2="228" stroke="#1a1a1a" stroke-width="0.6" stroke-linecap="butt"/>
<line x1="361.56" y1="225.8" x2="361.56" y2="228" stroke="#1a1a1a" stroke-width="0.6" stroke-linecap="butt"/>
<line x1="363.7" y1="225.8" x2="363.7" y2="228" stroke="#1a1a1a" stroke-width="0.6" stroke-linecap="butt"/>
<line x1="365.85" y1="225.8" x2="365.85" y2="228" stroke="#1a1a1a" stroke-width="0.6" stroke-linecap="butt"/>
<line x1="368" y1="225.8" x2="368" y2="228" stroke="#1a1a1a" stroke-width="0.6" stroke-linecap="butt"/>
<line x1="370.14" y1="225.8" x2="370.14" y2="228" stroke="#1a1a1a" stroke-width="0.6" stroke-linecap="butt"/>
<line x1="372.29" y1="225.8" x2="372.29" y2="228" stroke="#1a1a1a" stroke-width="0.6" stroke-linecap="butt"/>
<line x1="374.43" y1="225.8" x2="374.43" y2="228" stroke="#1a1a1a" stroke-width="0.6" stroke-linecap="butt"/>
<line x1="376.58" y1="225.8" x2="376.58" y2="229.2" stroke="#1a1a1a" stroke-width="0.6" stroke-linecap="butt"/>
<line x1="378.73" y1="225.8" x2="378.73" y2="228" stroke="#1a1a1a" stroke-width="0.6" stroke-linecap="butt"/>
<line x1="380.87" y1="225.8" x2="380.87" y2="228" stroke="#1a1a1a" stroke-width="0.6" stroke-linecap="butt"/>
<line x1="383.02" y1="225.8" x2="383.02" y2="228" stroke="#1a1a1a" stroke-width="0.6" stroke-linecap="butt"/>
<line x1="385.16" y1="225.8" x2="385.16" y2="228" stroke="#1a1a1a" stroke-width="0.6" stroke-linecap="butt"/>
<line x1="387.31" y1="225.8" x2="387.31" y2="228" stroke="#1a1a1a" stroke-width="0.6" stroke-linecap="butt"/>
<line x1="389.46" y1="225.8" x2="389.46" y2="228" stroke="#1a1a1a" stroke-width="0.6" stroke-linecap="butt"/>
<line x1="391.6" y1="225.8" x2="391.6" y2="228" stroke="#1a1a1a" stroke-width="0.6" stroke-linecap="butt"/>
<line x1="393.75" y1="225.8" x2="393.75" y2="228" stroke="#1a1a1a" stroke-width="0.6" stroke-linecap="butt"/>
<line x1="395.89" y1="225.8" x2="395.89" y2="228" stroke="#1a1a1a" stroke-width="0.6" stroke-linecap="butt"/>
<line x1="398.04" y1="225.8" x2="398.04" y2="229.2" stroke="#1a1a1a" stroke-width="0.6" stroke-linecap="butt"/>
<line x1="400.19" y1="225.8" x2="400.19" y2="228" stroke="#1a1a1a" stroke-width="0.6" stroke-linecap="butt"/>
<line x1="402.33" y1="225.8" x2="402.33" y2="228" stroke="#1a1a1a" stroke-width="0.6" stroke-linecap="butt"/>
<line x1="404.48" y1="225.8" x2="404.48" y2="228" stroke="#1a1a1a" stroke-width="0.6" stroke-linecap="butt"/>
<line x1="406.62" y1="225.8" x2="406.62" y2="228" stroke="#1a1a1a" stroke-width="0.6" stroke-linecap="butt"/>
<line x1="408.77" y1="225.8" x2="408.77" y2="228" stroke="#1a1a1a" stroke-width="0.6" stroke-linecap="butt"/>
<line x1="410.92" y1="225.8" x2="410.92" y2="228" stroke="#1a1a1a" stroke-width="0.6" stroke-linecap="butt"/>
<line x1="413.06" y1="225.8" x2="413.06" y2="228" stroke="#1a1a1a" stroke-width="0.6" stroke-linecap="butt"/>
<line x1="415.21" y1="225.8" x2="415.21" y2="228" stroke="#1a1a1a" stroke-width="0.6" stroke-linecap="butt"/>
<line x1="417.35" y1="225.8" x2="417.35" y2="228" stroke="#1a1a1a" stroke-width="0.6" stroke-linecap="butt"/>
<line x1="419.5" y1="225.8" x2="419.5" y2="229.2" stroke="#1a1a1a" stroke-width="0.6" stroke-linecap="butt"/>
<text x="312.2" y="237.4" font-size="8" fill="#262626" text-anchor="middle">0</text>
<text x="333.66" y="237.4" font-size="8" fill="#262626" text-anchor="middle">20</text>
<text x="355.12" y="237.4" font-size="8" fill="#262626" text-anchor="middle">40</text>
<text x="376.58" y="237.4" font-size="8" fill="#262626" text-anchor="middle">60</text>
<text x="398.04" y="237.4" font-size="8" fill="#262626" text-anchor="middle">80</text>
<text x="419.5" y="237.4" font-size="8" fill="#262626" text-anchor="middle">100</text>
<text x="363" y="247.3" font-size="8" fill="#262626" font-weight="bold" textLength="13.3" lengthAdjust="spacingAndGlyphs">Days</text>
<text x="286.9" y="223.8" font-size="8.6" fill="#262626" font-weight="bold" textLength="61.8" lengthAdjust="spacingAndGlyphs" transform="rotate(-90 286.9 223.8)">Probability of survival</text>
<text x="314.4" y="211" font-size="5.2" fill="#333" textLength="29.5" lengthAdjust="spacingAndGlyphs">Treatments</text>
<line x1="314.8" y1="213" x2="314.8" y2="221.1" stroke="#111" stroke-width="0.8" stroke-linecap="butt"/>
<polygon points="312.9,220.8 316.7,220.8 314.8,224.4" fill="#111"/>
<line x1="319" y1="213" x2="319" y2="221.1" stroke="#111" stroke-width="0.8" stroke-linecap="butt"/>
<polygon points="317.1,220.8 320.9,220.8 319,224.4" fill="#111"/>
<line x1="323.3" y1="213" x2="323.3" y2="221.1" stroke="#111" stroke-width="0.8" stroke-linecap="butt"/>
<polygon points="321.4,220.8 325.2,220.8 323.3,224.4" fill="#111"/>
<line x1="327.5" y1="213" x2="327.5" y2="221.1" stroke="#111" stroke-width="0.8" stroke-linecap="butt"/>
<polygon points="325.6,220.8 329.4,220.8 327.5,224.4" fill="#111"/>
<line x1="429.1" y1="157.7" x2="436.8" y2="157.7" stroke="#1d7a48" stroke-width="1.2" stroke-linecap="butt"/>
<text x="438.8" y="160.3" font-size="7.4" fill="#262626">Untreated</text>
<line x1="429.1" y1="167.48" x2="436.8" y2="167.48" stroke="#333" stroke-width="1.2" stroke-linecap="butt" stroke-dasharray="1,1.7"/>
<text x="438.8" y="170.08" font-size="7.4" fill="#262626">Venetoclax</text>
<line x1="429.1" y1="177.26" x2="436.8" y2="177.26" stroke="#5cc465" stroke-width="1.2" stroke-linecap="butt"/>
<text x="438.8" y="179.86" font-size="7.4" fill="#262626">XNK + IL-2</text>
<line x1="429.1" y1="187.04" x2="436.8" y2="187.04" stroke="#5cc465" stroke-width="1.2" stroke-linecap="butt" stroke-dasharray="1,1.7"/>
<text x="438.8" y="189.64" font-size="7.4" fill="#262626">XNK + IL-2 + Ven</text>
<line x1="429.1" y1="196.82" x2="436.8" y2="196.82" stroke="#3e2160" stroke-width="1.2" stroke-linecap="butt"/>
<text x="438.8" y="199.42" font-size="7.4" fill="#262626">XNK + Obin + IL-2</text>
<line x1="429.1" y1="206.6" x2="436.8" y2="206.6" stroke="#3e2160" stroke-width="1.2" stroke-linecap="butt" stroke-dasharray="1,1.7"/>
<text x="438.8" y="209.2" font-size="7.4" fill="#262626">XNK + Obin + IL-2 + Ven</text>
<text x="1.8" y="273.2" font-size="10" fill="#111" class="pl" font-weight="bold">E</text>
<text x="55.8" y="273" font-size="9.2" fill="#262626" textLength="38" lengthAdjust="spacingAndGlyphs">NK count</text>
<line x1="50.77" y1="297" x2="50.77" y2="356.2" stroke="#a0a0a8" stroke-width="1" stroke-linecap="butt" stroke-dasharray="1,0.7"/>
<line x1="49.57" y1="297" x2="51.97" y2="297" stroke="#a0a0a8" stroke-width="0.8" stroke-linecap="butt"/>
<line x1="51.87" y1="300" x2="51.87" y2="356.2" stroke="#7fcf85" stroke-width="1" stroke-linecap="butt" stroke-dasharray="1,0.7"/>
<line x1="50.67" y1="300" x2="53.07" y2="300" stroke="#7fcf85" stroke-width="0.8" stroke-linecap="butt"/>
<line x1="68.28" y1="333.4" x2="68.28" y2="356.2" stroke="#9c8fa8" stroke-width="1" stroke-linecap="butt" stroke-dasharray="1,0.7"/>
<line x1="67.08" y1="333.4" x2="69.48" y2="333.4" stroke="#9c8fa8" stroke-width="0.8" stroke-linecap="butt"/>
<line x1="85.29" y1="350" x2="85.29" y2="356.2" stroke="#8fcf8f" stroke-width="1" stroke-linecap="butt" stroke-dasharray="1,0.7"/>
<line x1="84.09" y1="350" x2="86.49" y2="350" stroke="#8fcf8f" stroke-width="0.8" stroke-linecap="butt"/>
<line x1="102.3" y1="349" x2="102.3" y2="356.2" stroke="#a0a0a8" stroke-width="1" stroke-linecap="butt" stroke-dasharray="1,0.7"/>
<line x1="101.1" y1="349" x2="103.5" y2="349" stroke="#a0a0a8" stroke-width="0.8" stroke-linecap="butt"/>
<polyline points="34.26,356.25 51.27,325.02 68.28,346.75 85.29,354.11 102.3,354.47" fill="none" stroke="#343844" stroke-width="1" stroke-linejoin="miter"/>
<polyline points="34.26,356.25 51.27,330.12 68.28,350.07 85.29,354.59 102.3,354.82" fill="none" stroke="#4fb35b" stroke-width="1.1" stroke-linejoin="miter"/>
<polyline points="34.26,356.25 51.27,332.5 68.28,351.5 85.29,355.06 102.3,355.06" fill="none" stroke="#7fcf85" stroke-width="1" stroke-linejoin="miter" stroke-dasharray="1,1"/>
<polyline points="34.26,356.25 51.27,336.3 68.28,352.45 85.29,355.3 102.3,355.3" fill="none" stroke="#3a3a50" stroke-width="1" stroke-linejoin="miter" stroke-dasharray="1.6,1.2"/>
<line x1="29.6" y1="279.3" x2="29.6" y2="356.8" stroke="#1a1a1a" stroke-width="1.1" stroke-linecap="butt"/>
<line x1="26.8" y1="356.25" x2="106.7" y2="356.25" stroke="#1a1a1a" stroke-width="1.1" stroke-linecap="butt"/>
<line x1="26" y1="285" x2="29.6" y2="285" stroke="#1a1a1a" stroke-width="1.1" stroke-linecap="butt"/>
<text x="22.9" y="287.2" font-size="8" fill="#262626" text-anchor="end">60</text>
<line x1="26" y1="308.75" x2="29.6" y2="308.75" stroke="#1a1a1a" stroke-width="1.1" stroke-linecap="butt"/>
<text x="22.9" y="310.95" font-size="8" fill="#262626" text-anchor="end">40</text>
<line x1="26" y1="332.5" x2="29.6" y2="332.5" stroke="#1a1a1a" stroke-width="1.1" stroke-linecap="butt"/>
<text x="22.9" y="334.7" font-size="8" fill="#262626" text-anchor="end">20</text>
<line x1="26" y1="356.25" x2="29.6" y2="356.25" stroke="#1a1a1a" stroke-width="1.1" stroke-linecap="butt"/>
<text x="22.9" y="358.45" font-size="8" fill="#262626" text-anchor="end">0</text>
<line x1="29.4" y1="356.25" x2="29.4" y2="359.6" stroke="#1a1a1a" stroke-width="0.7" stroke-linecap="butt"/>
<line x1="41.55" y1="356.25" x2="41.55" y2="358.4" stroke="#1a1a1a" stroke-width="0.7" stroke-linecap="butt"/>
<line x1="53.7" y1="356.25" x2="53.7" y2="359.6" stroke="#1a1a1a" stroke-width="0.7" stroke-linecap="butt"/>
<line x1="65.85" y1="356.25" x2="65.85" y2="358.4" stroke="#1a1a1a" stroke-width="0.7" stroke-linecap="butt"/>
<line x1="78" y1="356.25" x2="78" y2="359.6" stroke="#1a1a1a" stroke-width="0.7" stroke-linecap="butt"/>
<line x1="90.15" y1="356.25" x2="90.15" y2="358.4" stroke="#1a1a1a" stroke-width="0.7" stroke-linecap="butt"/>
<line x1="102.3" y1="356.25" x2="102.3" y2="359.6" stroke="#1a1a1a" stroke-width="0.7" stroke-linecap="butt"/>
<text x="29.4" y="367.8" font-size="8" fill="#262626" text-anchor="middle">0</text>
<text x="53.7" y="367.8" font-size="8" fill="#262626" text-anchor="middle">10</text>
<text x="78" y="367.8" font-size="8" fill="#262626" text-anchor="middle">20</text>
<text x="102.3" y="367.8" font-size="8" fill="#262626" text-anchor="middle">30</text>
<text x="60.4" y="377.6" font-size="8.4" fill="#262626" font-weight="bold" textLength="10.6" lengthAdjust="spacingAndGlyphs">Day</text>
<text x="8.6" y="330" font-size="8.8" fill="#262626" font-weight="bold" textLength="17.6" lengthAdjust="spacingAndGlyphs" transform="rotate(-90 8.6 330)">NK/uL</text>
<line x1="34.1" y1="389.2" x2="39.1" y2="389.2" stroke="#4fb35b" stroke-width="0.9" stroke-linecap="butt"/>
<text x="41.6" y="391.8" font-size="7.2" fill="#262626">XNK + IL-2</text>
<line x1="34.1" y1="397.65" x2="39.1" y2="397.65" stroke="#7fcf85" stroke-width="0.9" stroke-linecap="butt" stroke-dasharray="0.8,1"/>
<text x="41.6" y="400.25" font-size="7.2" fill="#262626">XNK + IL-2 + Ven</text>
<line x1="34.1" y1="406.1" x2="39.1" y2="406.1" stroke="#2f3340" stroke-width="0.9" stroke-linecap="butt"/>
<text x="41.6" y="408.7" font-size="7.2" fill="#262626">XNK + Obin + IL-2</text>
<line x1="34.1" y1="414.55" x2="39.1" y2="414.55" stroke="#3a3a50" stroke-width="0.9" stroke-linecap="butt" stroke-dasharray="0.8,1"/>
<text x="41.6" y="417.15" font-size="7.2" fill="#262626">XNK + Obin + IL-2 + Ven</text>
<text x="161.5" y="273" font-size="9" fill="#262626" textLength="33.3" lengthAdjust="spacingAndGlyphs">HLA-DR</text>
<circle cx="154.4" cy="329.49" r="1.2" fill="#3fae4f"/>
<circle cx="154.4" cy="352.33" r="1.2" fill="#3fae4f"/>
<circle cx="158.5" cy="353.6" r="1.2" fill="#3fae4f"/>
<circle cx="150.4" cy="355.36" r="1.2" fill="#3fae4f"/>
<circle cx="152" cy="343.55" r="1.2" fill="#3fae4f"/>
<circle cx="154" cy="343.55" r="1.2" fill="#3fae4f"/>
<circle cx="156.2" cy="343.55" r="1.2" fill="#3fae4f"/>
<circle cx="158" cy="343.55" r="1.2" fill="#3fae4f"/>
<line x1="148.8" y1="343.55" x2="160.2" y2="343.55" stroke="#3fae4f" stroke-width="1" stroke-linecap="butt"/>
<circle cx="166.6" cy="338.41" r="1.35" fill="none" stroke="#3fa64f" stroke-width="0.75"/>
<circle cx="170.6" cy="337.57" r="1.35" fill="none" stroke="#3fa64f" stroke-width="0.75"/>
<circle cx="174.2" cy="338.41" r="1.35" fill="none" stroke="#3fa64f" stroke-width="0.75"/>
<circle cx="170.6" cy="348.47" r="1.35" fill="none" stroke="#3fa64f" stroke-width="0.75"/>
<circle cx="172.5" cy="350.93" r="1.35" fill="none" stroke="#3fa64f" stroke-width="0.75"/>
<circle cx="168.5" cy="353.04" r="1.35" fill="none" stroke="#3fa64f" stroke-width="0.75"/>
<line x1="165.2" y1="344.6" x2="176" y2="344.6" stroke="#333" stroke-width="0.9" stroke-linecap="butt" stroke-dasharray="1,0.8"/>
<circle cx="186.7" cy="334.97" r="1.2" fill="#151515"/>
<circle cx="186.7" cy="340.31" r="1.2" fill="#151515"/>
<circle cx="183.4" cy="350.29" r="1.2" fill="#3a1a58"/>
<circle cx="188.1" cy="350.29" r="1.2" fill="#3a1a58"/>
<circle cx="190.8" cy="350.29" r="1.2" fill="#3a1a58"/>
<circle cx="182.6" cy="354.65" r="1.2" fill="#3a1a58"/>
<line x1="182" y1="349.17" x2="192.1" y2="349.17" stroke="#3a1a58" stroke-width="1.1" stroke-linecap="butt" stroke-dasharray="1.2,0.8"/>
<circle cx="202.9" cy="333.49" r="1.35" fill="none" stroke="#6b4a8e" stroke-width="0.75"/>
<circle cx="198.9" cy="345.3" r="1.35" fill="none" stroke="#6b4a8e" stroke-width="0.75"/>
<circle cx="198.9" cy="350.58" r="1.35" fill="none" stroke="#6b4a8e" stroke-width="0.75"/>
<circle cx="198.9" cy="352.69" r="1.35" fill="none" stroke="#6b4a8e" stroke-width="0.75"/>
<circle cx="206.9" cy="352.69" r="1.35" fill="none" stroke="#6b4a8e" stroke-width="0.75"/>
<circle cx="206.9" cy="349.17" r="1.35" fill="none" stroke="#6b4a8e" stroke-width="0.75"/>
<line x1="197.5" y1="349.17" x2="209" y2="349.17" stroke="#6b4a8e" stroke-width="0.9" stroke-linecap="butt" stroke-dasharray="1,0.8"/>
<line x1="143.6" y1="279.4" x2="143.6" y2="356.8" stroke="#1a1a1a" stroke-width="1.1" stroke-linecap="butt"/>
<line x1="143.6" y1="356.2" x2="212.9" y2="356.2" stroke="#1a1a1a" stroke-width="1.1" stroke-linecap="butt"/>
<line x1="140.2" y1="285.9" x2="143.6" y2="285.9" stroke="#1a1a1a" stroke-width="0.9" stroke-linecap="butt"/>
<text x="138.9" y="288.5" font-size="8" fill="#262626" text-anchor="end">100</text>
<line x1="140.2" y1="299.96" x2="143.6" y2="299.96" stroke="#1a1a1a" stroke-width="0.9" stroke-linecap="butt"/>
<text x="138.9" y="302.56" font-size="8" fill="#262626" text-anchor="end">80</text>
<line x1="140.2" y1="314.02" x2="143.6" y2="314.02" stroke="#1a1a1a" stroke-width="0.9" stroke-linecap="butt"/>
<text x="138.9" y="316.62" font-size="8" fill="#262626" text-anchor="end">60</text>
<line x1="140.2" y1="328.08" x2="143.6" y2="328.08" stroke="#1a1a1a" stroke-width="0.9" stroke-linecap="butt"/>
<text x="138.9" y="330.68" font-size="8" fill="#262626" text-anchor="end">40</text>
<line x1="140.2" y1="342.14" x2="143.6" y2="342.14" stroke="#1a1a1a" stroke-width="0.9" stroke-linecap="butt"/>
<text x="138.9" y="344.74" font-size="8" fill="#262626" text-anchor="end">20</text>
<line x1="140.2" y1="356.2" x2="143.6" y2="356.2" stroke="#1a1a1a" stroke-width="0.9" stroke-linecap="butt"/>
<text x="138.9" y="358.8" font-size="8" fill="#262626" text-anchor="end">0</text>
<line x1="154.4" y1="356.2" x2="154.4" y2="359" stroke="#1a1a1a" stroke-width="0.8" stroke-linecap="butt"/>
<line x1="170.6" y1="356.2" x2="170.6" y2="359" stroke="#1a1a1a" stroke-width="0.8" stroke-linecap="butt"/>
<line x1="186.7" y1="356.2" x2="186.7" y2="359" stroke="#1a1a1a" stroke-width="0.8" stroke-linecap="butt"/>
<line x1="202.9" y1="356.2" x2="202.9" y2="359" stroke="#1a1a1a" stroke-width="0.8" stroke-linecap="butt"/>
<text x="120.2" y="335.4" font-size="8" fill="#262626" font-weight="bold" textLength="29" lengthAdjust="spacingAndGlyphs" transform="rotate(-90 120.2 335.4)">% Positive</text>
<text x="157.4" y="365" font-size="7.7" fill="#262626" text-anchor="end" transform="rotate(-45 157.4 365)">XNK + IL-2</text>
<text x="173.6" y="365" font-size="7.7" fill="#262626" text-anchor="end" transform="rotate(-45 173.6 365)">XNK + IL-2 + Ven</text>
<text x="189.7" y="365" font-size="7.7" fill="#262626" text-anchor="end" transform="rotate(-45 189.7 365)">XNK + Obin + IL-2</text>
<text x="205.9" y="365" font-size="7.7" fill="#262626" text-anchor="end" transform="rotate(-45 205.9 365)">XNK + Obin + IL-2 + Ven</text>
<text x="227.2" y="273.4" font-size="10" fill="#111" class="pl" font-weight="bold">F</text>
<text x="282.3" y="287.8" font-size="8.8" fill="#262626" textLength="18.5" lengthAdjust="spacingAndGlyphs">IFNγ</text>
<circle cx="273" cy="335.4" r="1.2" fill="#3fae4f"/>
<circle cx="270.5" cy="354.3" r="1.05" fill="#3fae4f"/>
<circle cx="272" cy="354.3" r="1.05" fill="#3fae4f"/>
<circle cx="273.5" cy="354.3" r="1.05" fill="#3fae4f"/>
<circle cx="275" cy="354.3" r="1.05" fill="#3fae4f"/>
<circle cx="276.3" cy="354.3" r="1.05" fill="#3fae4f"/>
<line x1="269.5" y1="354" x2="277.5" y2="354" stroke="#3fae4f" stroke-width="1" stroke-linecap="butt"/>
<circle cx="285.4" cy="336.4" r="1.35" fill="none" stroke="#3fa64f" stroke-width="0.75"/>
<circle cx="282" cy="340" r="1.35" fill="none" stroke="#3fa64f" stroke-width="0.75"/>
<circle cx="289.4" cy="340" r="1.35" fill="none" stroke="#3fa64f" stroke-width="0.75"/>
<circle cx="282.3" cy="351" r="1.35" fill="none" stroke="#3fa64f" stroke-width="0.75"/>
<circle cx="288.7" cy="349.7" r="1.35" fill="none" stroke="#3fa64f" stroke-width="0.75"/>
<line x1="280" y1="340.4" x2="292" y2="340.4" stroke="#333" stroke-width="0.9" stroke-linecap="butt" stroke-dasharray="1,0.8"/>
<circle cx="297.4" cy="310.6" r="1.2" fill="#1a1a1a"/>
<circle cx="293" cy="354.6" r="0.9" fill="#4a2a6a"/>
<circle cx="295" cy="354.6" r="0.9" fill="#4a2a6a"/>
<circle cx="297" cy="354.6" r="0.9" fill="#4a2a6a"/>
<circle cx="299" cy="354.6" r="0.9" fill="#4a2a6a"/>
<circle cx="301" cy="354.6" r="0.9" fill="#4a2a6a"/>
<line x1="292" y1="354.3" x2="302.5" y2="354.3" stroke="#3a1a58" stroke-width="1" stroke-linecap="butt"/>
<circle cx="309.8" cy="346.1" r="1.35" fill="none" stroke="#7d4aa8" stroke-width="0.75"/>
<circle cx="306" cy="350.4" r="1.35" fill="none" stroke="#7d4aa8" stroke-width="0.75"/>
<circle cx="312.7" cy="349.7" r="1.35" fill="none" stroke="#7d4aa8" stroke-width="0.75"/>
<circle cx="306.7" cy="354.5" r="1.35" fill="none" stroke="#7d4aa8" stroke-width="0.75"/>
<circle cx="312.5" cy="354.5" r="1.35" fill="none" stroke="#7d4aa8" stroke-width="0.75"/>
<line x1="303" y1="350.4" x2="316" y2="350.4" stroke="#7d4aa8" stroke-width="0.9" stroke-linecap="butt" stroke-dasharray="1,0.8"/>
<polyline points="271.6,329.8 271.6,327.7 284,327.7 284,329.8" fill="none" stroke="#222" stroke-width="0.9" stroke-linejoin="miter"/>
<circle cx="278" cy="323" r="0.9" fill="#222"/>
<line x1="265.3" y1="298.8" x2="265.3" y2="356.3" stroke="#1a1a1a" stroke-width="1.1" stroke-linecap="butt"/>
<line x1="265.3" y1="355.7" x2="317.5" y2="355.7" stroke="#1a1a1a" stroke-width="1.1" stroke-linecap="butt"/>
<line x1="262" y1="303.57" x2="265.3" y2="303.57" stroke="#1a1a1a" stroke-width="0.9" stroke-linecap="butt"/>
<text x="260.9" y="306.18" font-size="8" fill="#262626" text-anchor="end">15000</text>
<line x1="262" y1="320.95" x2="265.3" y2="320.95" stroke="#1a1a1a" stroke-width="0.9" stroke-linecap="butt"/>
<text x="260.9" y="323.55" font-size="8" fill="#262626" text-anchor="end">10000</text>
<line x1="262" y1="338.32" x2="265.3" y2="338.32" stroke="#1a1a1a" stroke-width="0.9" stroke-linecap="butt"/>
<text x="260.9" y="340.93" font-size="8" fill="#262626" text-anchor="end">5000</text>
<line x1="262" y1="355.7" x2="265.3" y2="355.7" stroke="#1a1a1a" stroke-width="0.9" stroke-linecap="butt"/>
<text x="260.9" y="358.3" font-size="8" fill="#262626" text-anchor="end">0</text>
<line x1="273.3" y1="355.7" x2="273.3" y2="358.5" stroke="#1a1a1a" stroke-width="0.8" stroke-linecap="butt"/>
<line x1="285.4" y1="355.7" x2="285.4" y2="358.5" stroke="#1a1a1a" stroke-width="0.8" stroke-linecap="butt"/>
<line x1="297.4" y1="355.7" x2="297.4" y2="358.5" stroke="#1a1a1a" stroke-width="0.8" stroke-linecap="butt"/>
<line x1="309.8" y1="355.7" x2="309.8" y2="358.5" stroke="#1a1a1a" stroke-width="0.8" stroke-linecap="butt"/>
<text x="231.2" y="360.2" font-size="8.6" fill="#262626" font-weight="bold" textLength="65.4" lengthAdjust="spacingAndGlyphs" transform="rotate(-90 231.2 360.2)">Concentration (pg/mL)</text>
<text x="273.8" y="364.8" font-size="7.7" fill="#262626" text-anchor="end" transform="rotate(-45 273.8 364.8)">XNK + IL-2</text>
<text x="285.9" y="364.8" font-size="7.7" fill="#262626" text-anchor="end" transform="rotate(-45 285.9 364.8)">XNK + IL-2 + Ven</text>
<text x="297.9" y="364.8" font-size="7.7" fill="#262626" text-anchor="end" transform="rotate(-45 297.9 364.8)">XNK + Obin + IL-2</text>
<text x="310.3" y="364.8" font-size="7.7" fill="#262626" text-anchor="end" transform="rotate(-45 310.3 364.8)">XNK + Obin + IL-2 + Ven</text>
<text x="375.4" y="288.3" font-size="8.8" fill="#262626" textLength="30.6" lengthAdjust="spacingAndGlyphs">Perforin</text>
<line x1="367" y1="326.5" x2="367" y2="355.7" stroke="#7fcf85" stroke-width="0.9" stroke-linecap="butt"/>
<line x1="369.2" y1="324.5" x2="369.2" y2="355.7" stroke="#8c8796" stroke-width="0.9" stroke-linecap="butt"/>
<line x1="407.8" y1="319" x2="407.8" y2="355.7" stroke="#7fcf85" stroke-width="0.9" stroke-linecap="butt"/>
<line x1="409.8" y1="306" x2="409.8" y2="355.7" stroke="#8c8796" stroke-width="0.9" stroke-linecap="butt"/>
<line x1="366" y1="326.5" x2="368" y2="326.5" stroke="#7fcf85" stroke-width="0.8" stroke-linecap="butt"/>
<line x1="368.2" y1="324.5" x2="370.2" y2="324.5" stroke="#8c8796" stroke-width="0.8" stroke-linecap="butt"/>
<line x1="408.8" y1="306" x2="410.8" y2="306" stroke="#8c8796" stroke-width="0.8" stroke-linecap="butt"/>
<line x1="406.8" y1="319" x2="408.8" y2="319" stroke="#7fcf85" stroke-width="0.8" stroke-linecap="butt"/>
<rect x="366.6" y="336" width="2.8" height="19.5" fill="#d3efd7"/>
<rect x="407.0" y="320" width="2.6" height="35" fill="#e2f4e4"/>
<line x1="369.2" y1="339.8" x2="409" y2="334.4" stroke="#7a4c9a" stroke-width="1.2" stroke-linecap="butt"/>
<line x1="369.2" y1="342.8" x2="409" y2="342.2" stroke="#5cc468" stroke-width="1.2" stroke-linecap="butt"/>
<line x1="369.2" y1="345.8" x2="409" y2="319.9" stroke="#5cc468" stroke-width="0.9" stroke-linecap="butt" stroke-dasharray="2.6,1.6"/>
<line x1="369.2" y1="349.8" x2="409" y2="344.8" stroke="#4a2a6a" stroke-width="1" stroke-linecap="butt" stroke-dasharray="2.6,1.6"/>
<line x1="363.3" y1="298" x2="363.3" y2="356.3" stroke="#1a1a1a" stroke-width="1.1" stroke-linecap="butt"/>
<line x1="363.3" y1="355.8" x2="417.7" y2="355.8" stroke="#1a1a1a" stroke-width="1.1" stroke-linecap="butt"/>
<line x1="359.8" y1="303.9" x2="363.3" y2="303.9" stroke="#1a1a1a" stroke-width="0.9" stroke-linecap="butt"/>
<text x="357.3" y="306.5" font-size="8" fill="#262626" text-anchor="end">1000</text>
<line x1="359.8" y1="329.8" x2="363.3" y2="329.8" stroke="#1a1a1a" stroke-width="0.9" stroke-linecap="butt"/>
<text x="357.3" y="332.4" font-size="8" fill="#262626" text-anchor="end">500</text>
<line x1="359.8" y1="355.7" x2="363.3" y2="355.7" stroke="#1a1a1a" stroke-width="0.9" stroke-linecap="butt"/>
<text x="357.3" y="358.3" font-size="8" fill="#262626" text-anchor="end">0</text>
<line x1="363.54" y1="355.8" x2="363.54" y2="357.8" stroke="#1a1a1a" stroke-width="0.7" stroke-linecap="butt"/>
<line x1="369.2" y1="355.8" x2="369.2" y2="357.8" stroke="#1a1a1a" stroke-width="0.7" stroke-linecap="butt"/>
<line x1="374.86" y1="355.8" x2="374.86" y2="358.8" stroke="#1a1a1a" stroke-width="0.7" stroke-linecap="butt"/>
<line x1="380.52" y1="355.8" x2="380.52" y2="357.8" stroke="#1a1a1a" stroke-width="0.7" stroke-linecap="butt"/>
<line x1="386.18" y1="355.8" x2="386.18" y2="357.8" stroke="#1a1a1a" stroke-width="0.7" stroke-linecap="butt"/>
<line x1="391.84" y1="355.8" x2="391.84" y2="357.8" stroke="#1a1a1a" stroke-width="0.7" stroke-linecap="butt"/>
<line x1="397.5" y1="355.8" x2="397.5" y2="357.8" stroke="#1a1a1a" stroke-width="0.7" stroke-linecap="butt"/>
<line x1="403.16" y1="355.8" x2="403.16" y2="358.8" stroke="#1a1a1a" stroke-width="0.7" stroke-linecap="butt"/>
<line x1="408.82" y1="355.8" x2="408.82" y2="357.8" stroke="#1a1a1a" stroke-width="0.7" stroke-linecap="butt"/>
<line x1="414.48" y1="355.8" x2="414.48" y2="357.8" stroke="#1a1a1a" stroke-width="0.7" stroke-linecap="butt"/>
<text x="374.86" y="368.4" font-size="8" fill="#262626" text-anchor="middle">10</text>
<text x="403.16" y="368.4" font-size="8" fill="#262626" text-anchor="middle">15</text>
<text x="383.3" y="377.7" font-size="8.9" fill="#262626" font-weight="bold" textLength="10.9" lengthAdjust="spacingAndGlyphs">Day</text>
<text x="332.2" y="360.2" font-size="8.6" fill="#262626" font-weight="bold" textLength="65.4" lengthAdjust="spacingAndGlyphs" transform="rotate(-90 332.2 360.2)">Concentration (pg/mL)</text>
<text x="470.8" y="288.5" font-size="8.9" fill="#262626" textLength="42.4" lengthAdjust="spacingAndGlyphs">Granulysin</text>
<rect x="468.4" y="337" width="3.4" height="16.3" fill="#d3efd7"/>
<rect x="509.6" y="330" width="2.2" height="24" fill="#e2f4e4"/>
<line x1="469" y1="336.8" x2="469" y2="353" stroke="#7fcf85" stroke-width="0.9" stroke-linecap="butt"/>
<line x1="471.2" y1="331.3" x2="471.2" y2="353" stroke="#8c8796" stroke-width="0.9" stroke-linecap="butt"/>
<line x1="510" y1="329.9" x2="510" y2="354" stroke="#7fcf85" stroke-width="0.9" stroke-linecap="butt"/>
<line x1="511.8" y1="311" x2="511.8" y2="354" stroke="#8c8796" stroke-width="0.9" stroke-linecap="butt"/>
<line x1="470.2" y1="331.3" x2="472.2" y2="331.3" stroke="#8c8796" stroke-width="0.8" stroke-linecap="butt"/>
<line x1="468" y1="336.8" x2="470" y2="336.8" stroke="#7fcf85" stroke-width="0.8" stroke-linecap="butt"/>
<line x1="510.8" y1="311" x2="512.8" y2="311" stroke="#8c8796" stroke-width="0.8" stroke-linecap="butt"/>
<line x1="509" y1="329.9" x2="511" y2="329.9" stroke="#7fcf85" stroke-width="0.8" stroke-linecap="butt"/>
<line x1="471" y1="341.8" x2="511" y2="337.2" stroke="#7a4c9a" stroke-width="1.2" stroke-linecap="butt"/>
<line x1="471" y1="345.2" x2="511" y2="340.4" stroke="#5cc468" stroke-width="0.9" stroke-linecap="butt" stroke-dasharray="2.6,1.6"/>
<line x1="471" y1="345.8" x2="511" y2="347.2" stroke="#5cc468" stroke-width="1.2" stroke-linecap="butt"/>
<line x1="471" y1="347.2" x2="511" y2="348.8" stroke="#4a2a6a" stroke-width="1" stroke-linecap="butt" stroke-dasharray="2.6,1.6"/>
<line x1="464.1" y1="298.8" x2="464.1" y2="356.3" stroke="#1a1a1a" stroke-width="1.1" stroke-linecap="butt"/>
<line x1="464.1" y1="355.8" x2="518.7" y2="355.8" stroke="#1a1a1a" stroke-width="1.1" stroke-linecap="butt"/>
<line x1="460.6" y1="303.3" x2="464.1" y2="303.3" stroke="#1a1a1a" stroke-width="0.9" stroke-linecap="butt"/>
<text x="458" y="305.9" font-size="8" fill="#262626" text-anchor="end">6000</text>
<line x1="460.6" y1="320.8" x2="464.1" y2="320.8" stroke="#1a1a1a" stroke-width="0.9" stroke-linecap="butt"/>
<text x="458" y="323.4" font-size="8" fill="#262626" text-anchor="end">4000</text>
<line x1="460.6" y1="338.3" x2="464.1" y2="338.3" stroke="#1a1a1a" stroke-width="0.9" stroke-linecap="butt"/>
<text x="458" y="340.9" font-size="8" fill="#262626" text-anchor="end">2000</text>
<line x1="460.6" y1="355.8" x2="464.1" y2="355.8" stroke="#1a1a1a" stroke-width="0.9" stroke-linecap="butt"/>
<text x="458" y="358.4" font-size="8" fill="#262626" text-anchor="end">0</text>
<line x1="465.28" y1="355.8" x2="465.28" y2="357.8" stroke="#1a1a1a" stroke-width="0.7" stroke-linecap="butt"/>
<line x1="471" y1="355.8" x2="471" y2="357.8" stroke="#1a1a1a" stroke-width="0.7" stroke-linecap="butt"/>
<line x1="476.72" y1="355.8" x2="476.72" y2="358.8" stroke="#1a1a1a" stroke-width="0.7" stroke-linecap="butt"/>
<line x1="482.44" y1="355.8" x2="482.44" y2="357.8" stroke="#1a1a1a" stroke-width="0.7" stroke-linecap="butt"/>
<line x1="488.16" y1="355.8" x2="488.16" y2="357.8" stroke="#1a1a1a" stroke-width="0.7" stroke-linecap="butt"/>
<line x1="493.88" y1="355.8" x2="493.88" y2="357.8" stroke="#1a1a1a" stroke-width="0.7" stroke-linecap="butt"/>
<line x1="499.6" y1="355.8" x2="499.6" y2="357.8" stroke="#1a1a1a" stroke-width="0.7" stroke-linecap="butt"/>
<line x1="505.32" y1="355.8" x2="505.32" y2="358.8" stroke="#1a1a1a" stroke-width="0.7" stroke-linecap="butt"/>
<line x1="511.04" y1="355.8" x2="511.04" y2="357.8" stroke="#1a1a1a" stroke-width="0.7" stroke-linecap="butt"/>
<line x1="516.76" y1="355.8" x2="516.76" y2="357.8" stroke="#1a1a1a" stroke-width="0.7" stroke-linecap="butt"/>
<text x="476.72" y="368.4" font-size="8" fill="#262626" text-anchor="middle">10</text>
<text x="505.32" y="368.4" font-size="8" fill="#262626" text-anchor="middle">15</text>
<text x="485" y="377.7" font-size="8.9" fill="#262626" font-weight="bold" textLength="10.9" lengthAdjust="spacingAndGlyphs">Day</text>
<text x="432.3" y="360.2" font-size="8.6" fill="#262626" font-weight="bold" textLength="65.4" lengthAdjust="spacingAndGlyphs" transform="rotate(-90 432.3 360.2)">Concentration (pg/mL)</text>
</svg>
</body></html>
